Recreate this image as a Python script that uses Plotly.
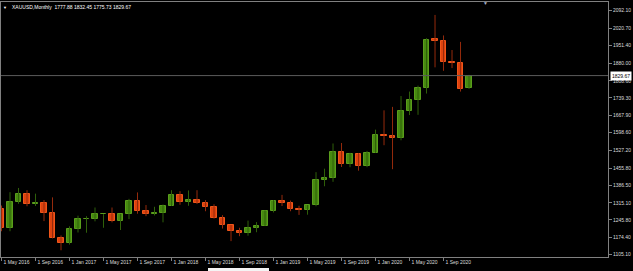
import plotly.graph_objects as go

# ---- data (XAUUSD monthly, May 2016 .. Dec 2020) ----
months = ["May 2016","Jun 2016","Jul 2016","Aug 2016","Sep 2016","Oct 2016","Nov 2016","Dec 2016",
          "Jan 2017","Feb 2017","Mar 2017","Apr 2017","May 2017","Jun 2017","Jul 2017","Aug 2017",
          "Sep 2017","Oct 2017","Nov 2017","Dec 2017","Jan 2018","Feb 2018","Mar 2018","Apr 2018",
          "May 2018","Jun 2018","Jul 2018","Aug 2018","Sep 2018","Oct 2018","Nov 2018","Dec 2018",
          "Jan 2019","Feb 2019","Mar 2019","Apr 2019","May 2019","Jun 2019","Jul 2019","Aug 2019",
          "Sep 2019","Oct 2019","Nov 2019","Dec 2019","Jan 2020","Feb 2020","Mar 2020","Apr 2020",
          "May 2020","Jun 2020","Jul 2020","Aug 2020","Sep 2020","Oct 2020","Nov 2020","Dec 2020"]
opens  = [1291,1215,1320,1350,1309,1316,1273,1172,1151,1210,1248,1249,1268,1269,1242,1269,
          1322,1280,1271,1275,1303,1345,1318,1325,1315,1299,1253,1224,1201,1192,1215,1222,
          1282,1321,1313,1292,1284,1305,1409,1414,1520,1472,1513,1464,1517,1589,1585,1577,
          1686,1730,1781,1976,1968,1886,1879,1777.88]
highs  = [1304,1358,1375,1366,1352,1326,1337,1183,1220,1263,1261,1296,1269,1296,1270,1331,
          1357,1306,1299,1308,1366,1362,1365,1366,1326,1309,1265,1225,1214,1243,1237,1284,
          1326,1347,1324,1303,1306,1439,1453,1555,1557,1517,1516,1525,1611,1689,1703,1747,
          1765,1789,1981,2075,1992,1933,1966,1832.45]
lows   = [1200,1200,1311,1301,1302,1241,1171,1123,1146,1195,1194,1240,1214,1236,1205,1249,
          1271,1261,1264,1236,1302,1307,1303,1310,1281,1251,1211,1160,1180,1182,1196,1221,
          1276,1302,1281,1266,1267,1301,1382,1400,1460,1459,1445,1459,1517,1548,1451,1568,
          1670,1671,1757,1863,1849,1860,1765,1775.73]
closes = [1215,1320,1350,1309,1316,1273,1173,1151,1210,1248,1249,1268,1269,1242,1268,1322,
          1280,1271,1275,1303,1345,1318,1325,1315,1299,1253,1224,1201,1192,1215,1222,1282,
          1321,1313,1292,1284,1305,1409,1414,1520,1472,1513,1464,1517,1589,1585,1577,1686,
          1730,1781,1975,1968,1886,1879,1776,1829.67]

y_ticks = [2092.10, 2020.70, 1951.40, 1880.00, 1808.60, 1739.30, 1667.90, 1598.60,
           1527.20, 1455.80, 1386.50, 1315.10, 1245.80, 1174.40, 1105.10]
x_tick_idx = list(range(0, 56, 4))
x_tick_text = ["1 " + months[i] for i in x_tick_idx]
last_price = 1829.67
title_text = "XAUUSD,Monthly\u00a0\u00a01777.88 1832.45 1775.73 1829.67"

# ---- styles ----
UP_BODY, UP_EDGE, UP_WICK = "#478a10", "#5a9e1c", "#2f600a"
DN_BODY, DN_EDGE, DN_WICK = "#dd420e", "#f0561a", "#952a0c"
TXT = "#dcdcdc"
FRAME = "#808080"
FONT = "Liberation Sans"

idx = list(range(len(months)))
up = [c >= o for o, c in zip(opens, closes)]

fig = go.Figure()
for is_up, col in ((True, UP_WICK), (False, DN_WICK)):
    wx, wy = [], []
    for i in idx:
        if up[i] == is_up:
            wx += [i, i, None]
            wy += [lows[i], highs[i], None]
    fig.add_trace(go.Scatter(x=wx, y=wy, mode="lines", line=dict(color=col, width=1),
                             hoverinfo="skip", showlegend=False))

fig.add_trace(go.Bar(
    x=idx,
    base=[min(o, c) for o, c in zip(opens, closes)],
    y=[abs(c - o) for o, c in zip(opens, closes)],
    width=0.68,
    marker=dict(color=[UP_BODY if u else DN_BODY for u in up],
                line=dict(color=[UP_EDGE if u else DN_EDGE for u in up], width=1)),
    showlegend=False, hoverinfo="skip"))

fig.add_hline(y=last_price, line=dict(color="#5c5c5c", width=1))

fig.update_layout(
    width=633, height=271,
    margin=dict(l=1, r=25, t=2, b=14, autoexpand=False),
    paper_bgcolor="#000000", plot_bgcolor="#000000",
    barmode="overlay", bargap=0,
    font=dict(family=FONT, size=5, color=TXT),
    xaxis=dict(range=[-0.06, 71.35], tickmode="array", tickvals=x_tick_idx, ticktext=x_tick_text,
               showgrid=False, zeroline=False, showline=True, linecolor=FRAME, linewidth=1,
               mirror=True, ticks="outside", ticklen=3, tickcolor=FRAME, tickangle=0,
               automargin=False,
               ticklabelposition="outside right", ticklabelshift=1, ticklabelstandoff=0,
               tickfont=dict(family=FONT, size=5, color=TXT)),
    yaxis=dict(range=[1095.8, 2127.3], side="right", tickmode="array", tickvals=y_ticks,
               tickformat=".2f", showgrid=False, zeroline=False, showline=True,
               linecolor=FRAME, linewidth=1, mirror=True, ticks="outside", ticklen=3,
               automargin=False,
               tickcolor=FRAME, tickfont=dict(family=FONT, size=5, color=TXT)),
    annotations=[
        dict(x=1, xref="paper", xanchor="left", xshift=2, y=last_price, yref="y",
             yanchor="middle", text="1829.67", showarrow=False, bgcolor="#ffffff",
             borderpad=1, font=dict(family=FONT, size=5, color="#000000")),
        dict(x=(4.5 - 1) / 607, xref="paper", y=(257 - 7) / 255, yref="paper",
             xanchor="center", yanchor="middle", text="\u25bc", showarrow=False,
             font=dict(family=FONT, size=4, color="#ffffff")),
        dict(x=(10 - 1) / 607, xref="paper", y=(257 - 7) / 255, yref="paper",
             xanchor="left", yanchor="middle", text=title_text, showarrow=False,
             font=dict(family=FONT, size=5, color="#ffffff")),
        dict(x=(485 - 1) / 607, xref="paper", y=(257 - 3.5) / 255, yref="paper",
             xanchor="center", yanchor="middle", text="\u25bc", showarrow=False,
             font=dict(family=FONT, size=5, color="#a8b0c8")),
    ],
    shapes=[
        dict(type="rect", xref="paper", yref="paper", x0=-0.01, x1=1.05,
             y0=(257 - 268) / 255, y1=(257 - 272) / 255, fillcolor="#a0a0a0", line_width=0,
             layer="above"),
        dict(type="rect", xref="paper", yref="paper", x0=(208 - 1) / 607, x1=(269 - 1) / 607,
             y0=(257 - 268) / 255, y1=(257 - 272) / 255, fillcolor="#f4f4f4", line_width=0,
             layer="above"),
    ],
)

fig.write_html("out.html")
